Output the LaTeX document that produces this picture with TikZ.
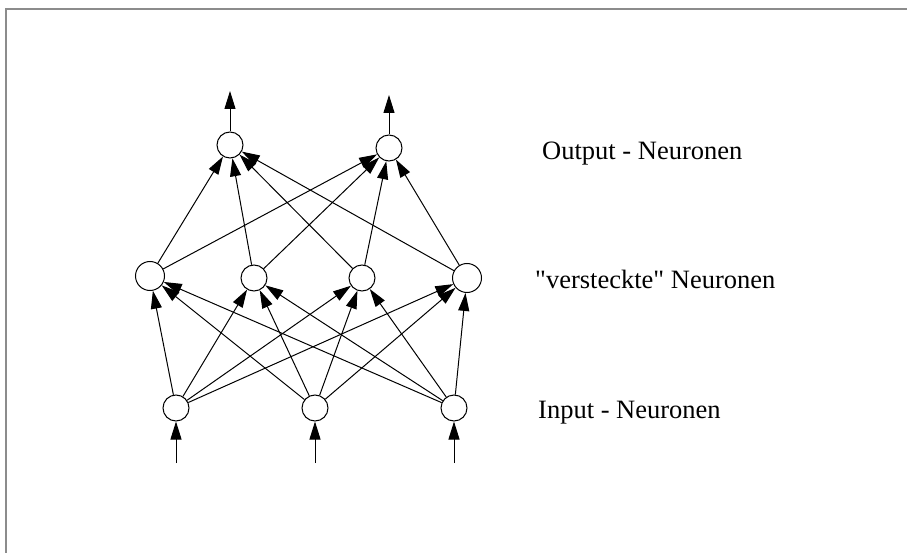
\documentclass[tikz,border=0pt]{standalone}
\usepackage{fontspec}
\setmainfont{Liberation Serif}[Ligatures=TeXOff]
\usetikzlibrary{arrows.meta}
\begin{document}
\begin{tikzpicture}[x=1pt,y=-1pt,
  neuron/.style={circle,draw,line width=1pt,minimum size=26pt,inner sep=0pt,fill=white},
  conn/.style={line width=1pt,-{Triangle[length=18pt,width=11pt]}},
  lbl/.style={anchor=base west,font=\fontsize{26.5}{30}\selectfont,inner sep=0pt,text=black}]
\useasboundingbox (0,0) rectangle (907,553);
\draw[line width=1.5pt,gray!90] (6,553) -- (6,9) -- (907,9);
% nodes
\node[neuron] (i1) at (176,408) {};
\node[neuron] (i2) at (315,408) {};
\node[neuron] (i3) at (454,408) {};
\node[neuron,minimum width=27pt,minimum height=29pt] (h1) at (150,276) {};
\node[neuron] (h2) at (254,278) {};
\node[neuron] (h3) at (362,278) {};
\node[neuron,minimum width=27pt,minimum height=29pt] (h4) at (467,278) {};
\node[neuron] (o1) at (230,145) {};
\node[neuron] (o2) at (389,148) {};
% free ends
\coordinate (b1) at (176,463);
\coordinate (b2) at (315,463);
\coordinate (b3) at (454,463);
\coordinate (t1) at (230,91);
\coordinate (t2) at (389,95);
% connectors
\foreach \i in {1,2,3}{
  \draw[conn] (b\i) -- (i\i);
  \foreach \h in {1,2,3,4}{ \draw[conn] (i\i) -- (h\h); }
}
\foreach \h in {1,2,3,4}{
  \foreach \o in {1,2}{ \draw[conn] (h\h) -- (o\o); }
}
\draw[conn] (o1) -- (t1);
\draw[conn] (o2) -- (t2);
% labels
\node[lbl] (lo) at (542,160) {Output - Neuronen};
\node[lbl] (lh) at (535,288) {"versteckte" Neuronen};
\node[lbl] (li) at (538,418) {Input - Neuronen};
\end{tikzpicture}
\end{document}
